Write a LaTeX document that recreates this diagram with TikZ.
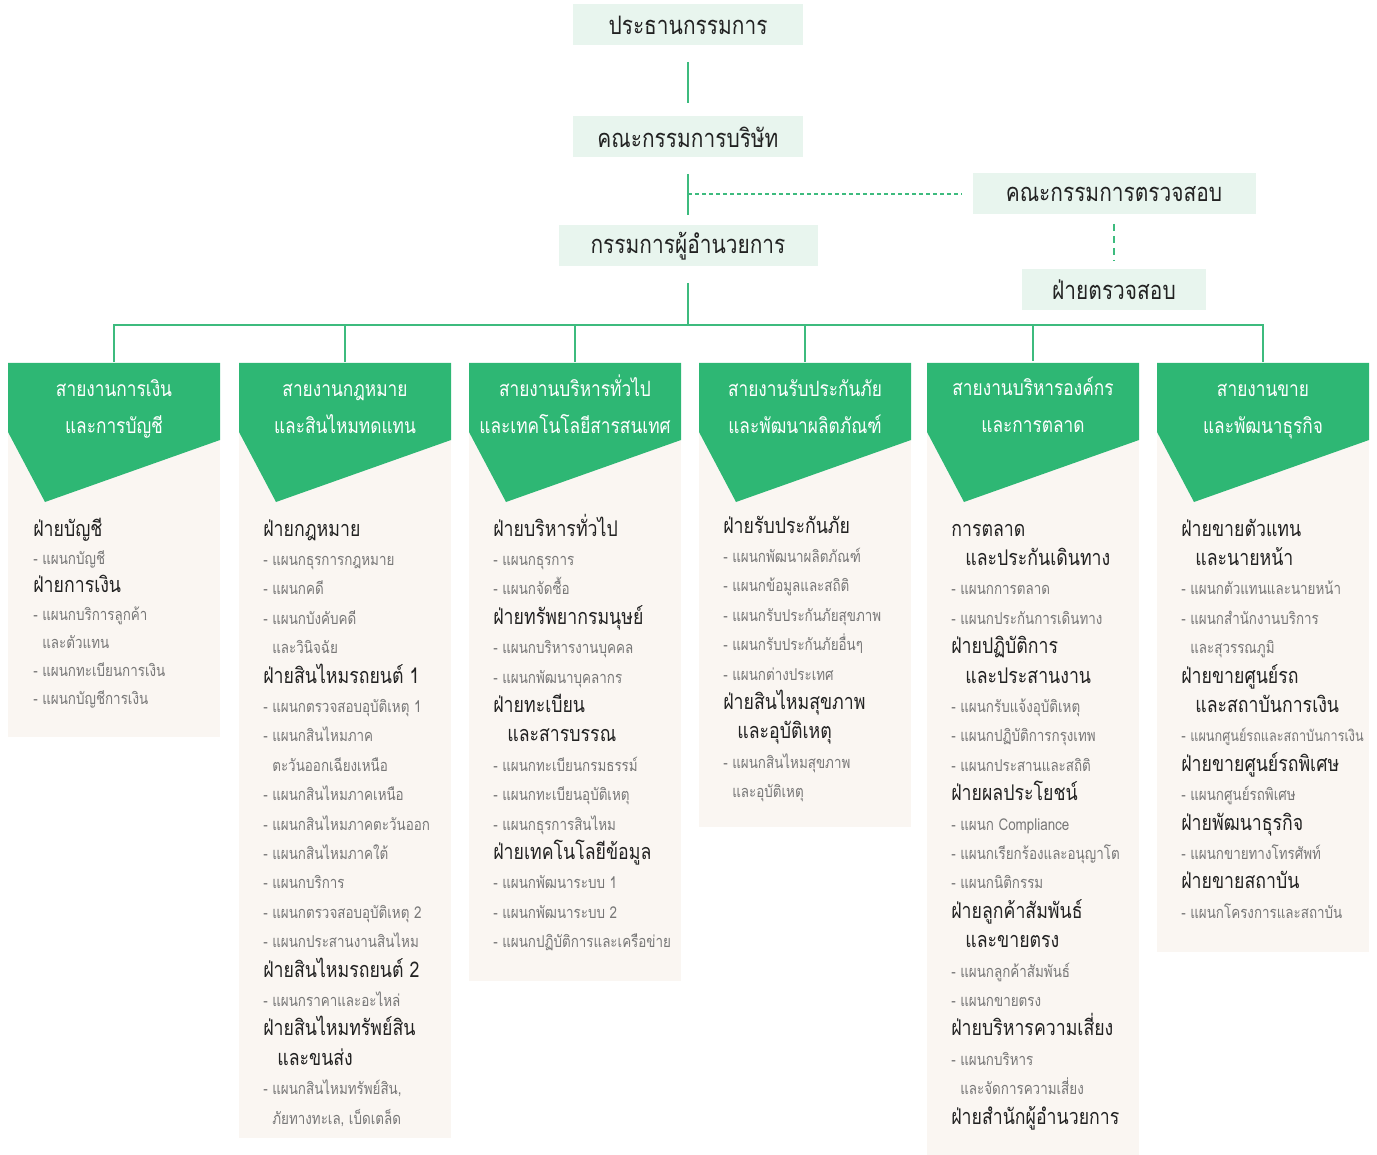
\documentclass[tikz,border=0pt]{standalone}
\usepackage{fontspec}
\newfontfamily\thai[Script=Thai, FakeStretch=0.82]{Loma}
\definecolor{kgreen}{HTML}{2EB774}
\definecolor{kline}{HTML}{3DBB7E}
\definecolor{mint}{HTML}{E8F5EE}
\definecolor{panel}{HTML}{FAF6F2}
\definecolor{itemgray}{HTML}{777777}
\definecolor{headink}{HTML}{222222}
\tikzstyle{topbox} = [rectangle, fill=mint, minimum height=8.2mm, inner sep=0pt, text=headink, font=\thai\fontsize{14.5}{16}\selectfont]
\tikzstyle{head} = [align=center, text=white, minimum height=18.2mm, inner sep=0pt, font=\thai\fontsize{12}{21}\selectfont]
\tikzstyle{line} = [draw=kline, line width=1pt]
\tikzstyle{dashline} = [draw=kline, line width=1pt, dash pattern=on 0.8mm off 0.6mm]
\tikzstyle{row} = [anchor=base west, inner sep=0pt, font=\thai]
\newcommand{\twolines}[2]{\strut#1\\\strut#2}
\newcommand{\fay}[1]{{\fontsize{12.3}{14}\selectfont\color{headink}#1}}
\newcommand{\fayx}[1]{\fay{\hspace*{2.8mm}#1}}
\newcommand{\dept}[1]{{\fontsize{9.3}{11}\selectfont\color{itemgray}- #1}}
\newcommand{\deptx}[1]{{\fontsize{9.3}{11}\selectfont\color{itemgray}\phantom{- }#1}}
\begin{document}
\begin{tikzpicture}[x=0.2mm, y=-0.2mm]
        \useasboundingbox (0,0) rectangle (1377,1155);
        % Top of the chart
        \node (chair) [topbox, minimum width=46mm] at (688,25) {ประธานกรรมการ};
        \node (board) [topbox, minimum width=46mm] at (688,137) {คณะกรรมการบริษัท};
        \node (md) [topbox, minimum width=51.8mm] at (688,246) {กรรมการผู้อำนวยการ};
        \node (audc) [topbox, minimum width=56.6mm] at (1114,194) {คณะกรรมการตรวจสอบ};
        \node (auddiv) [topbox, minimum width=36.8mm] at (1114,290) {ฝ่ายตรวจสอบ};

        % Panels and green heads
        \foreach \x/\h in {8/737, 239/1138, 469/981, 699/827, 927/1155, 1157/952} {
            \fill[panel] (\x,363) rectangle (\x+212,\h);
            \fill[kgreen] (\x,363) -- (\x+212,363) -- (\x+212,440) -- (\x+37,502) -- (\x,432) -- cycle;
        }
        \node (acc) [head] at (114,408) {\twolines{สายงานการเงิน}{และการบัญชี}};
        \node (law) [head] at (345,408) {\twolines{สายงานกฎหมาย}{และสินไหมทดแทน}};
        \node (gen) [head] at (575,408) {\twolines{สายงานบริหารทั่วไป}{และเทคโนโลยีสารสนเทศ}};
        \node (und) [head] at (805,408) {\twolines{สายงานรับประกันภัย}{และพัฒนาผลิตภัณฑ์}};
        \node (corp) [head] at (1033,407) {\twolines{สายงานบริหารองค์กร}{และการตลาด}};
        \node (sales) [head] at (1263,408) {\twolines{สายงานขาย}{และพัฒนาธุรกิจ}};

        % Lines
        \coordinate (bus) at (688,325);
        \draw [line, shorten <=3.2mm, shorten >=2.6mm] (chair) -- (board);
        \draw [line, shorten <=3.2mm, shorten >=2mm] (board) -- (md);
        \draw [line, shorten <=3.2mm] (md) -- (bus);
        \draw [dashline, shorten >=2.2mm] (board |- audc) -- (audc);
        \draw [dashline, dash pattern=on 1.4mm off 1mm, shorten <=1.8mm, shorten >=1.8mm] (audc) -- (auddiv);
        \draw [line, line width=1.3pt] (acc.north) |- (bus) -| (sales.north);
        \foreach \n in {law, gen, und, corp}
            \draw [line] (\n.north) -- (\n.north |- bus);

        % Sections
        \foreach \t [count=\i] in {\fay{ฝ่ายบัญชี}, \dept{แผนกบัญชี}, \fay{ฝ่ายการเงิน}, \dept{แผนกบริการลูกค้า}, \deptx{และตัวแทน}, \dept{แผนกทะเบียนการเงิน}, \dept{แผนกบัญชีการเงิน}}
            \node (acc-\i) [row] at (33,508+28*\i) {\t};
        \foreach \t [count=\i] in {\fay{ฝ่ายกฎหมาย}, \dept{แผนกธุรการกฎหมาย}, \dept{แผนกคดี}, \dept{แผนกบังคับคดี}, \deptx{และวินิจฉัย}, \fay{ฝ่ายสินไหมรถยนต์ 1}, \dept{แผนกตรวจสอบอุบัติเหตุ 1}, \dept{แผนกสินไหมภาค}, \deptx{ตะวันออกเฉียงเหนือ}, \dept{แผนกสินไหมภาคเหนือ}, \dept{แผนกสินไหมภาคตะวันออก}, \dept{แผนกสินไหมภาคใต้}, \dept{แผนกบริการ}, \dept{แผนกตรวจสอบอุบัติเหตุ 2}, \dept{แผนกประสานงานสินไหม}, \fay{ฝ่ายสินไหมรถยนต์ 2}, \dept{แผนกราคาและอะไหล่}, \fay{ฝ่ายสินไหมทรัพย์สิน}, \fayx{และขนส่ง}, {\dept{แผนกสินไหมทรัพย์สิน,}}, {\deptx{ภัยทางทะเล, เบ็ดเตล็ด}}}
            \node (law-\i) [row] at (263,506.6+29.4*\i) {\t};
        \foreach \t [count=\i] in {\fay{ฝ่ายบริหารทั่วไป}, \dept{แผนกธุรการ}, \dept{แผนกจัดซื้อ}, \fay{ฝ่ายทรัพยากรมนุษย์}, \dept{แผนกบริหารงานบุคคล}, \dept{แผนกพัฒนาบุคลากร}, \fay{ฝ่ายทะเบียน}, \fayx{และสารบรรณ}, \dept{แผนกทะเบียนกรมธรรม์}, \dept{แผนกทะเบียนอุบัติเหตุ}, \dept{แผนกธุรการสินไหม}, \fay{ฝ่ายเทคโนโลยีข้อมูล}, \dept{แผนกพัฒนาระบบ 1}, \dept{แผนกพัฒนาระบบ 2}, \dept{แผนกปฏิบัติการและเครือข่าย}}
            \node (gen-\i) [row] at (493,506.6+29.4*\i) {\t};
        \foreach \t [count=\i] in {\fay{ฝ่ายรับประกันภัย}, \dept{แผนกพัฒนาผลิตภัณฑ์}, \dept{แผนกข้อมูลและสถิติ}, \dept{แผนกรับประกันภัยสุขภาพ}, \dept{แผนกรับประกันภัยอื่นๆ}, \dept{แผนกต่างประเทศ}, \fay{ฝ่ายสินไหมสุขภาพ}, \fayx{และอุบัติเหตุ}, \dept{แผนกสินไหมสุขภาพ}, \deptx{และอุบัติเหตุ}}
            \node (und-\i) [row] at (723,503.6+29.4*\i) {\t};
        \foreach \t [count=\i] in {\fay{การตลาด}, \fayx{และประกันเดินทาง}, \dept{แผนกการตลาด}, \dept{แผนกประกันการเดินทาง}, \fay{ฝ่ายปฏิบัติการ}, \fayx{และประสานงาน}, \dept{แผนกรับแจ้งอุบัติเหตุ}, \dept{แผนกปฏิบัติการกรุงเทพ}, \dept{แผนกประสานและสถิติ}, \fay{ฝ่ายผลประโยชน์}, \dept{แผนก Compliance}, \dept{แผนกเรียกร้องและอนุญาโต}, \dept{แผนกนิติกรรม}, \fay{ฝ่ายลูกค้าสัมพันธ์}, \fayx{และขายตรง}, \dept{แผนกลูกค้าสัมพันธ์}, \dept{แผนกขายตรง}, \fay{ฝ่ายบริหารความเสี่ยง}, \dept{แผนกบริหาร}, \deptx{และจัดการความเสี่ยง}, \fay{ฝ่ายสำนักผู้อำนวยการ}}
            \node (corp-\i) [row] at (951,506.6+29.4*\i) {\t};
        \foreach \t [count=\i] in {\fay{ฝ่ายขายตัวแทน}, \fayx{และนายหน้า}, \dept{แผนกตัวแทนและนายหน้า}, \dept{แผนกสำนักงานบริการ}, \deptx{และสุวรรณภูมิ}, \fay{ฝ่ายขายศูนย์รถ}, \fayx{และสถาบันการเงิน}, \dept{\fontsize{8.8}{11}\selectfont แผนกศูนย์รถและสถาบันการเงิน}, \fay{ฝ่ายขายศูนย์รถพิเศษ}, \dept{แผนกศูนย์รถพิเศษ}, \fay{ฝ่ายพัฒนาธุรกิจ}, \dept{แผนกขายทางโทรศัพท์}, \fay{ฝ่ายขายสถาบัน}, \dept{แผนกโครงการและสถาบัน}}
            \node (sales-\i) [row] at (1181,506.6+29.4*\i) {\t};
    \end{tikzpicture}
\end{document}
